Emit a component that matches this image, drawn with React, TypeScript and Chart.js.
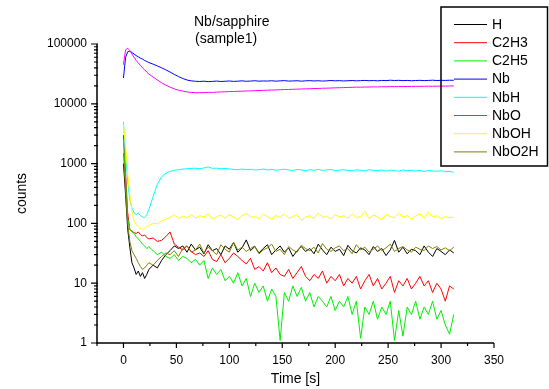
import React, { useEffect, useRef } from "react";
import { Chart, registerables } from "chart.js";

Chart.register(...registerables);

const FONT = "'Liberation Sans', Arial, Helvetica, sans-serif";

const TIME = [
  0, 2, 4, 6, 8, 10, 12, 14, 16, 18,
  20, 22, 24, 28, 32, 36, 40, 44, 48, 52,
  56, 60, 64, 68, 72, 76, 80, 84, 88, 92,
  96, 100, 104, 108, 112, 116, 120, 124, 128, 132,
  136, 140, 144, 148, 152, 156, 160, 164, 168, 172,
  176, 180, 184, 188, 192, 196, 200, 204, 208, 212,
  216, 220, 224, 228, 232, 236, 240, 244, 248, 252,
  256, 260, 264, 268, 272, 276, 280, 284, 288, 292,
  296, 300, 304, 308, 312,
];

const H = [
  1000, 300, 80, 40, 22, 18, 14, 16, 13, 15,
  12, 14, 17, 20, 18, 24, 30, 35, 42, 38,
  42, 33, 45, 36, 40, 31, 44, 35, 38, 30,
  42, 37, 48, 33, 39, 53, 35, 41, 32, 38,
  44, 30, 36, 42, 33, 39, 28, 35, 41, 34,
  38, 31, 45, 36, 30, 40, 34, 37, 29, 43,
  35, 32, 39, 36, 30, 41, 34, 38, 29, 36,
  52, 33, 40, 31, 37, 35, 30, 42, 33, 28,
  38, 34, 30, 36, 32,
];

const C2H3 = [
  3000, 700, 150, 78, 75, 70, 68, 72, 65, 62,
  64, 58, 55, 57, 50, 52, 60, 72, 45, 40,
  36, 42, 34, 30, 32, 28, 35, 25, 23, 30,
  22, 26, 32, 28, 24, 21, 26, 17, 19, 16,
  22, 15, 18, 14, 13, 17, 12, 15, 19, 13,
  11, 14, 12, 16, 10, 13, 11, 14, 9, 12,
  10, 13, 8, 11, 14, 9, 12, 8, 10, 13,
  7, 11, 9, 12, 8, 10, 13, 9, 11, 7,
  10, 8, 5, 9, 8,
];

const C2H5 = [
  2500, 500, 120, 80, 72, 68, 60, 55, 50, 45,
  42, 38, 41, 35, 30, 33, 28, 26, 30, 24,
  28, 26, 22, 25, 20, 24, 12, 18, 14, 17,
  11, 13, 10, 15, 9, 12, 6, 10, 7, 9,
  5, 8, 6, 1.1, 7, 5, 9, 6, 8.5, 5,
  7, 4, 6, 5, 4, 6, 3.5, 5, 4, 6,
  3, 5, 1.2, 4, 3, 5, 2.5, 4, 3, 5,
  1.1, 3.5, 1.3, 4, 3, 5, 2.5, 4, 3, 5,
  2.5, 3.5, 2, 1.4, 3,
];

const NB = [
  27000, 60000, 74000, 76000, 72000, 68000, 64000, 61000, 58000, 56000,
  53000, 51000, 49000, 46000, 43000, 40000, 37000, 34000, 31000, 28500,
  26500, 25000, 24200, 23800, 23600, 23900, 23500, 23700, 24000, 23600,
  23800, 24100, 23700, 23900, 24200, 23800, 24000, 24300, 23900, 24100,
  24000, 24300, 23900, 24200, 24400, 24000, 24100, 24300, 23900, 24200,
  24400, 24100, 24300, 24000, 24200, 24500, 24200, 24400, 24100, 24300,
  24500, 24200, 24400, 24600, 24300, 24500, 24200, 24600, 24400, 24800,
  24500, 24700, 24400, 24600, 24300, 24500, 24700, 24400, 24600, 24800,
  24500, 24700, 24600, 24800, 24700,
];

const NBH = [
  5000, 1500, 500, 250, 180, 150, 140, 150, 135, 128,
  125, 140, 170, 280, 450, 600, 690, 740, 770, 790,
  810, 820, 830, 840, 820, 845, 880, 830, 840, 820,
  830, 815, 800, 790, 810, 795, 805, 780, 790, 810,
  785, 800, 775, 790, 805, 780, 770, 795, 785, 760,
  790, 775, 800, 770, 785, 795, 765, 780, 790, 770,
  760, 785, 775, 755, 790, 770, 765, 780, 750, 775,
  770, 745, 785, 760, 775, 750, 770, 740, 765, 755,
  745, 760, 730, 740, 715,
];

const NBO = [
  45000, 80000, 85000, 78000, 68000, 60000, 53000, 48000, 44000, 40000,
  37000, 34000, 31500, 28000, 25000, 22500, 20500, 19000, 17800, 16900,
  16300, 15800, 15500, 15300, 15350, 15400, 15550, 15500, 15650, 15800,
  15850, 16000, 16050, 16200, 16250, 16400, 16450, 16600, 16650, 16800,
  16850, 17000, 17050, 17200, 17300, 17350, 17500, 17550, 17700, 17800,
  17850, 18000, 18050, 18200, 18250, 18350, 18500, 18550, 18650, 18800,
  18850, 19000, 18950, 19100, 19050, 19200, 19150, 19300, 19250, 19400,
  19350, 19400, 19500, 19450, 19550, 19600, 19550, 19650, 19700, 19650,
  19700, 19800, 19750, 19850, 19900,
];

const NBOH = [
  4500, 2000, 700, 300, 160, 110, 95, 88, 82, 80,
  84, 88, 92, 100, 98, 110, 118, 125, 140, 120,
  132, 125, 140, 122, 135, 128, 145, 118, 130, 138,
  122, 140, 128, 115, 135, 148, 126, 132, 120, 142,
  130, 118, 136, 125, 145, 122, 130, 140, 112, 128,
  135, 120, 150, 126, 132, 118, 140, 128, 135, 122,
  145, 125, 130, 160, 120, 138, 128, 115, 142, 130,
  125, 150, 128, 135, 118, 132, 145, 122, 155, 128,
  135, 120, 130, 125, 128,
];

const NBO2H = [
  1500, 400, 100, 50, 35, 30, 26, 22, 19, 17,
  18, 20, 22, 20, 24, 28, 32, 30, 35, 28,
  38, 42, 33, 36, 45, 32, 40, 35, 30, 44,
  37, 33, 48, 36, 40, 34, 38, 42, 31, 36,
  39, 45, 34, 37, 30, 41, 36, 33, 43, 38,
  35, 40, 32, 46, 37, 34, 39, 42, 35, 38,
  31, 44, 36, 40, 33, 37, 42, 35, 39, 45,
  34, 38, 41, 36, 33, 40, 37, 35, 42, 38,
  41, 36, 39, 35, 40,
];

const SERIES_NAMES = ["H", "C2H3", "C2H5", "Nb", "NbH", "NbO", "NbOH", "NbO2H"];
const SERIES_COLORS = ["#000000", "#ff0000", "#00ee00", "#0000ff", "#00ffff", "#ff00ff", "#ffff00", "#808000"];
const X_TICKS = [0, 50, 100, 150, 200, 250, 300, 350];
const X_MINOR = [-25, 25, 75, 125, 175, 225, 275, 325];
const Y_TICKS = [1, 10, 100, 1000, 10000, 100000];
const TITLE_LINES = ["Nb/sapphire", "(sample1)"];
const X_TITLE = "Time [s]";
const Y_TITLE = "counts";

export default function App() {
  const ref = useRef<HTMLCanvasElement>(null);

  useEffect(() => {
    document.body.style.margin = "0";
    const values = [H, C2H3, C2H5, NB, NBH, NBO, NBOH, NBO2H];
    const datasets = SERIES_NAMES.map((name, i) => ({
      label: name,
      data: TIME.map((t, j) => ({ x: t, y: values[i][j] })).filter((p) => p.y !== undefined),
      borderColor: SERIES_COLORS[i],
      backgroundColor: SERIES_COLORS[i],
      borderWidth: 1,
      pointRadius: 0,
      tension: 0,
      fill: false,
      order: -i,
    }));

    const overlay = {
      id: "overlay",
      afterDraw(chart: any) {
        const ctx = chart.ctx as CanvasRenderingContext2D;
        const xs = chart.scales.x;
        const ys = chart.scales.y;
        const ca = chart.chartArea;
        ctx.save();
        ctx.strokeStyle = "#000";
        ctx.fillStyle = "#000";
        ctx.lineWidth = 1.5;
        const ax = ca.left;
        const ay = ca.bottom;
        ctx.beginPath();
        ctx.moveTo(ax, ca.top);
        ctx.lineTo(ax, ay);
        ctx.lineTo(ca.right, ay);
        ctx.stroke();
        ctx.lineWidth = 1.2;
        ctx.beginPath();
        for (const v of Y_TICKS) {
          const y = ys.getPixelForValue(v);
          ctx.moveTo(ax - 6, y);
          ctx.lineTo(ax + 1, y);
        }
        for (let d = 0; d < 5; d++) {
          for (let m = 2; m <= 9; m++) {
            const y = ys.getPixelForValue(m * Math.pow(10, d));
            ctx.moveTo(ax - 3, y);
            ctx.lineTo(ax + 1, y);
          }
        }
        for (const v of X_TICKS) {
          const x = xs.getPixelForValue(v);
          ctx.moveTo(x, ay);
          ctx.lineTo(x, ay + 5);
        }
        for (const v of X_MINOR) {
          const x = xs.getPixelForValue(v);
          ctx.moveTo(x, ay);
          ctx.lineTo(x, ay + 3);
        }
        ctx.stroke();

        ctx.font = `14px ${FONT}`;
        ctx.textBaseline = "middle";
        ctx.textAlign = "left";
        ctx.fillText(TITLE_LINES[0], 194, 22);
        ctx.fillText(TITLE_LINES[1], 195, 39);

        ctx.textAlign = "center";
        ctx.fillText(X_TITLE, (ca.left + ca.right) / 2, 379);
        ctx.save();
        ctx.translate(22, (ca.top + ca.bottom) / 2);
        ctx.rotate(-Math.PI / 2);
        ctx.fillText(Y_TITLE, 0, 0);
        ctx.restore();

        // legend
        ctx.lineWidth = 1.5;
        ctx.strokeRect(441, 7, 106.5, 159);
        ctx.textAlign = "left";
        SERIES_NAMES.forEach((name, i) => {
          const y = 24.5 + i * 18.2;
          ctx.strokeStyle = SERIES_COLORS[i];
          ctx.lineWidth = 1;
          ctx.beginPath();
          ctx.moveTo(454, y);
          ctx.lineTo(487, y);
          ctx.stroke();
          ctx.fillStyle = "#000";
          ctx.fillText(name, 492, y + 0.5);
        });
        ctx.restore();
      },
    };

    const chart = new Chart(ref.current as HTMLCanvasElement, {
      type: "line",
      data: { datasets },
      options: {
        animation: false,
        responsive: false,
        devicePixelRatio: 1,
        layout: { padding: { left: 0, right: 55, top: 44, bottom: 0 } },
        plugins: { legend: { display: false }, tooltip: { enabled: false } },
        scales: {
          x: {
            type: "linear",
            min: -25,
            max: 350,
            grid: { display: false },
            border: { display: false },
            afterBuildTicks: (s: any) => {
              s.ticks = X_TICKS.map((v) => ({ value: v }));
            },
            afterFit: (s: any) => {
              s.height = 46;
            },
            ticks: {
              font: { family: FONT, size: 12 },
              color: "#000",
              padding: 2,
              maxRotation: 0,
              autoSkip: false,
              callback: (v: any) => String(v),
            },
          },
          y: {
            type: "logarithmic",
            min: 1,
            max: 100000,
            grid: { display: false },
            border: { display: false },
            afterBuildTicks: (s: any) => {
              s.ticks = Y_TICKS.map((v) => ({ value: v }));
            },
            afterFit: (s: any) => {
              s.width = 97;
            },
            ticks: {
              font: { family: FONT, size: 12 },
              color: "#000",
              padding: 2,
              autoSkip: false,
              callback: (v: any) => String(v),
            },
          },
        },
      } as any,
      plugins: [overlay],
    });
    return () => chart.destroy();
  }, []);

  return (
    <div style={{ width: 549, height: 389, position: "relative" }}>
      <canvas ref={ref} width={549} height={389} style={{ display: "block" }} />
    </div>
  );
}
